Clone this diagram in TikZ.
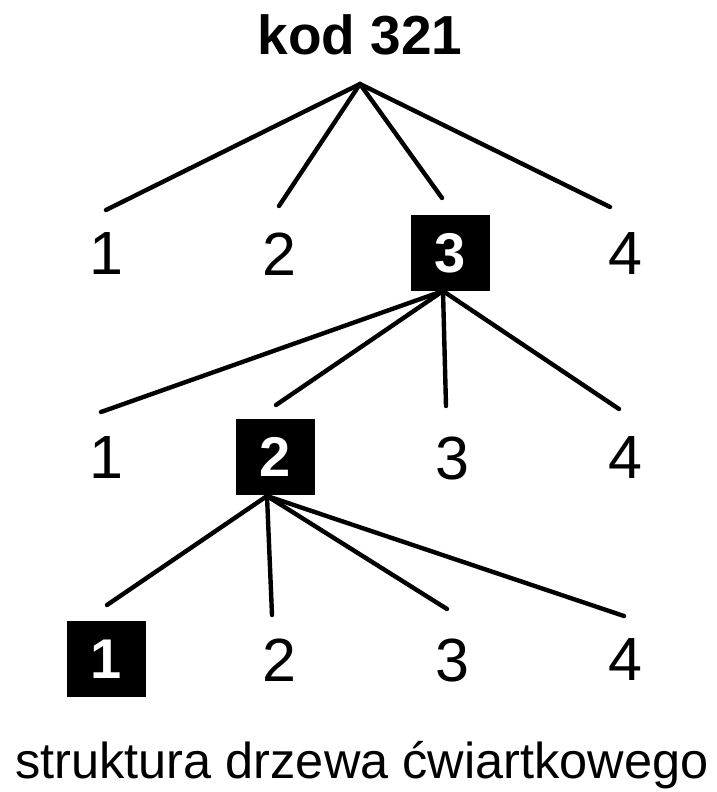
\documentclass[tikz,border=0pt]{standalone}
\usepackage{fontspec}
\setmainfont{Liberation Sans}
\begin{document}
\begin{tikzpicture}[x=1pt, y=-1pt,
  digit/.style={inner sep=0pt, font=\fontsize{61}{61}\selectfont},
  marked/.style={fill=black, text=white, inner sep=0pt,
    minimum width=79pt, minimum height=76pt,
    font=\fontsize{56}{56}\selectfont\bfseries},
  branch/.style={line width=4.4pt, line cap=round}]
  \useasboundingbox[fill=white] (0,0) rectangle (716,792);

  % title
  \node[inner sep=0pt, anchor=base, font=\fontsize{55}{55}\selectfont\bfseries]
    (title) at (360,55) {kod 321};

  % level 1
  \node[digit]  (a1) at (106,254) {1};
  \node[digit]  (a2) at (279,254) {2};
  \node[marked] (a3) at (450,253) {3};
  \node[digit]  (a4) at (625,254) {4};

  % level 2
  \node[digit]  (b1) at (106,458) {1};
  \node[marked] (b2) at (275,457) {2};
  \node[digit]  (b3) at (452,458) {3};
  \node[digit]  (b4) at (625,458) {4};

  % level 3
  \node[marked] (c1) at (106,659) {1};
  \node[digit]  (c2) at (279,660) {2};
  \node[digit]  (c3) at (452,660) {3};
  \node[digit]  (c4) at (625,660) {4};

  % caption
  \node[inner sep=0pt, anchor=base, font=\fontsize{50.5}{50.5}\selectfont]
    (caption) at (362,778) {struktura drzewa ćwiartkowego};

  % branch points and free ends of the branches
  \coordinate (r0) at (360,84);
  \coordinate (ea1) at (106,210);
  \coordinate (ea2) at (279,206);
  \coordinate (ea3) at (442,198);
  \coordinate (ea4) at (610,207);

  \coordinate (r1) at (443,291);
  \coordinate (eb1) at (101,412);
  \coordinate (eb2) at (276,405);
  \coordinate (eb3) at (446,406);
  \coordinate (eb4) at (619,409);

  \coordinate (r2) at (267,496);
  \coordinate (ec1) at (107,605);
  \coordinate (ec2) at (272,615);
  \coordinate (ec3) at (447,609);
  \coordinate (ec4) at (624,616);

  \foreach \k in {1,2,3,4} {
    \draw[branch] (r0) -- (ea\k);
    \draw[branch] (r1) -- (eb\k);
    \draw[branch] (r2) -- (ec\k);
  }
\end{tikzpicture}
\end{document}
